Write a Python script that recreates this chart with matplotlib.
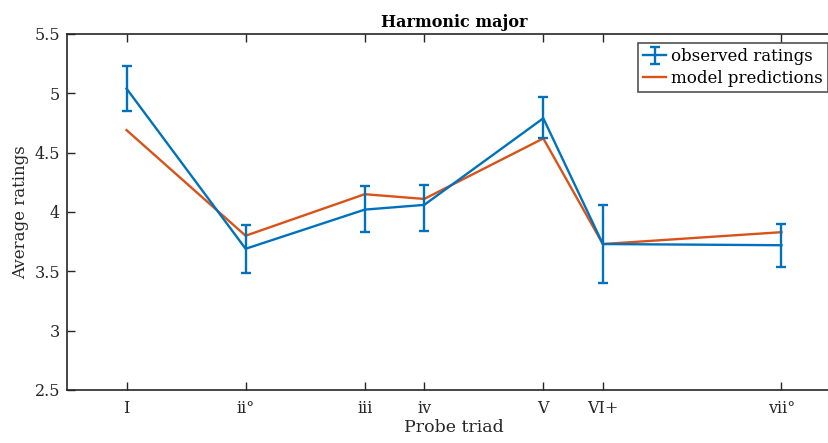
import matplotlib
matplotlib.use("Agg")
import matplotlib.pyplot as plt

labels = ["I", "ii°", "iii", "iv", "V", "VI+", "vii°"]
positions = [0, 2, 4, 5, 7, 8, 11]
observed = [5.04, 3.69, 4.02, 4.06, 4.79, 3.73, 3.72]
err_upper = [5.23, 3.89, 4.22, 4.23, 4.97, 4.06, 3.90]
err_lower = [4.85, 3.49, 3.83, 3.84, 4.62, 3.40, 3.54]
model = [4.69, 3.80, 4.15, 4.11, 4.62, 3.73, 3.83]

plt.rcParams['font.family'] = ['DejaVu Serif']

blue = '#0072BD'
orange = '#D95319'
dark = '#262626'

fig = plt.figure(figsize=(8.29, 4.43), dpi=100)
L, R, T, B = 67, 841, 34, 390
ax = fig.add_axes([L/829, (443-B)/443, (R-L)/829, (B-T)/443])

yerr = [[o - l for o, l in zip(observed, err_lower)],
        [u - o for o, u in zip(observed, err_upper)]]
eb = ax.errorbar(positions, observed, yerr=yerr, color=blue, lw=1.7,
                 capsize=3.5, capthick=1.7, elinewidth=1.7, zorder=3)
ln, = ax.plot(positions, model, color=orange, lw=1.7, zorder=2)

ax.set_xlim(-1, 12)
ax.set_ylim(2.5, 5.5)
ax.set_xticks(positions)
ax.set_xticklabels(labels)
ax.set_yticks([2.5, 3, 3.5, 4, 4.5, 5, 5.5])
ax.set_yticklabels(["2.5", "3", "3.5", "4", "4.5", "5", "5.5"])
ax.tick_params(direction='in', top=True, right=True, length=5.5, width=1,
               labelsize=11.5, colors=dark, pad=5)
ax.tick_params(axis='x', pad=7)
for s in ax.spines.values():
    s.set_color(dark)
    s.set_linewidth(1.2)

ax.set_xlabel('Probe triad', fontsize=12.5, color=dark, labelpad=2)
ax.set_ylabel('Average ratings', fontsize=12, color=dark, labelpad=4)
ax.set_title('Harmonic major', fontsize=11.5, fontweight='bold', pad=5)

leg = ax.legend([eb, ln], ['observed ratings', 'model predictions'],
                loc='upper right',
                bbox_to_anchor=((828-L)/(R-L), (B-43)/(B-T)),
                fontsize=12, frameon=True, fancybox=False, edgecolor=dark,
                handlelength=1.4, handletextpad=0.3, borderpad=0.3, labelspacing=0.3,
                borderaxespad=0)
leg.get_frame().set_linewidth(1.2)

fig.savefig('out.png', dpi=100)
